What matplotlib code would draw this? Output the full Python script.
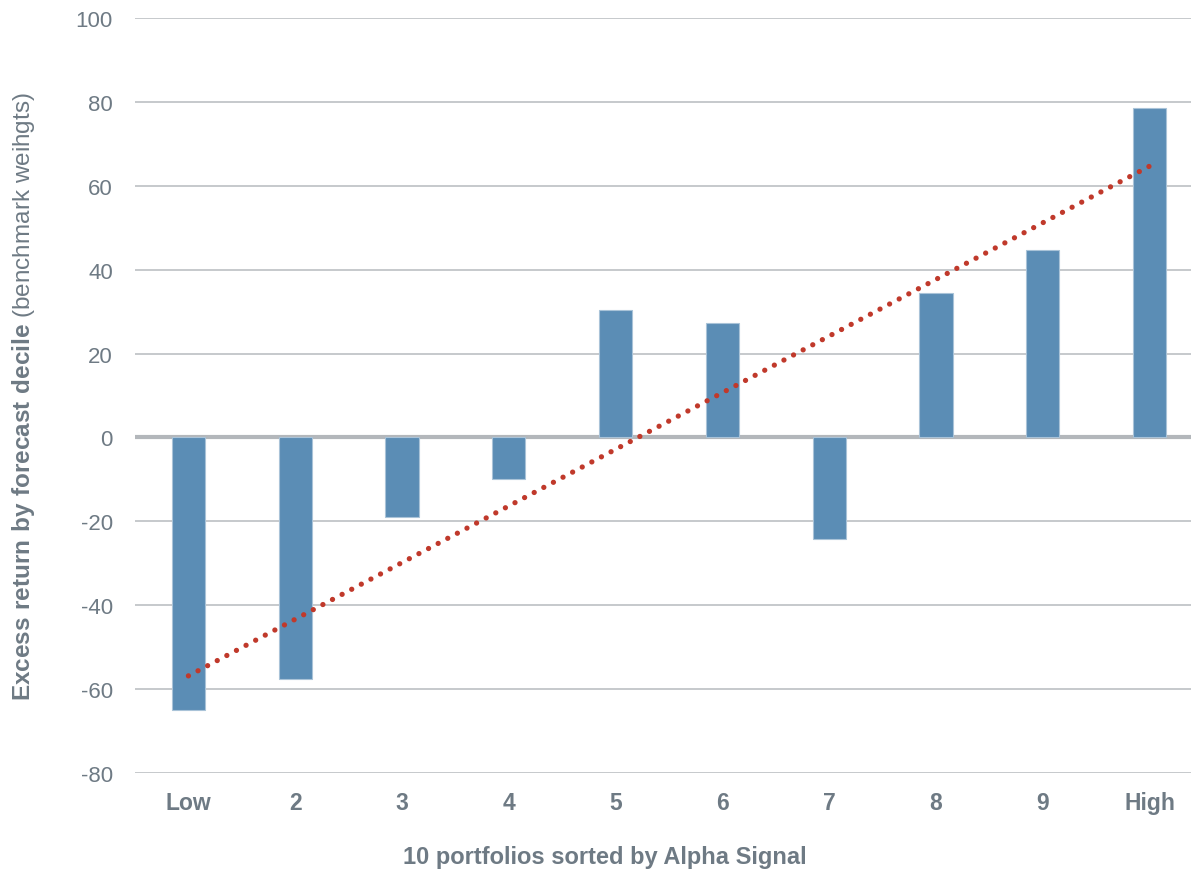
import numpy as np
import matplotlib.pyplot as plt

plt.rcParams['font.family'] = ['Liberation Sans', 'DejaVu Sans']
plt.rcParams['mathtext.fontset'] = 'custom'
plt.rcParams['mathtext.rm'] = 'Liberation Sans'
plt.rcParams['mathtext.bf'] = 'Liberation Sans:bold'

# data
deciles = ['Low', '2', '3', '4', '5', '6', '7', '8', '9', 'High']
excess = [-65.0, -57.7, -19.0, -9.8, 30.3, 27.2, -24.3, 34.4, 44.6, 78.5]
yticks = [-80, -60, -40, -20, 0, 20, 40, 60, 80, 100]

bar_col = '#5B8DB5'
txt_col = '#6E7A84'
grid_col = '#C2C5C8'

fig = plt.figure(figsize=(11.91, 8.70), dpi=100)
ax = fig.add_axes([135 / 1191, 96 / 870, 1068 / 1191, 755 / 870])

x = np.arange(len(deciles))
ax.bar(x, excess, width=0.31, color=bar_col, edgecolor='#A9C3D8',
       linewidth=0.8, zorder=3)

# linear trend line
k, b = np.polyfit(x, excess, 1)
ax.plot(x, k * x + b, color='#C0392B', linewidth=3.8,
        linestyle=(0, (0.01, 2.05)), dash_capstyle='round', zorder=4)

ax.set_xlim(-0.5, 9.5)
ax.set_ylim(-80, 100)
ax.set_yticks(yticks)
ax.set_yticklabels([str(t) for t in yticks])
ax.set_xticks(x)
ax.set_xticklabels(deciles, fontweight='bold')

ax.grid(axis='y', color=grid_col, linewidth=1.3, zorder=0)
ax.axhline(0, color='#B3B7BB', linewidth=3, zorder=2)
for s in ax.spines.values():
    s.set_visible(False)

ax.tick_params(axis='y', length=0, labelsize=16, colors=txt_col, pad=16)
ax.tick_params(axis='x', length=0, labelsize=16.5, colors=txt_col, pad=13)

ax.set_xlabel('10 portfolios sorted by Alpha Signal', fontsize=17,
              fontweight='bold', color=txt_col)
ax.xaxis.set_label_coords(0.44, -0.095)
ax.set_ylabel(r'$\mathbf{Excess\ return\ by\ forecast\ decile}$ (benchmark weihgts)',
              fontsize=17.5, color=txt_col)
ax.yaxis.set_label_coords(-0.092, 0.5)

fig.savefig('out.png', dpi=100)
